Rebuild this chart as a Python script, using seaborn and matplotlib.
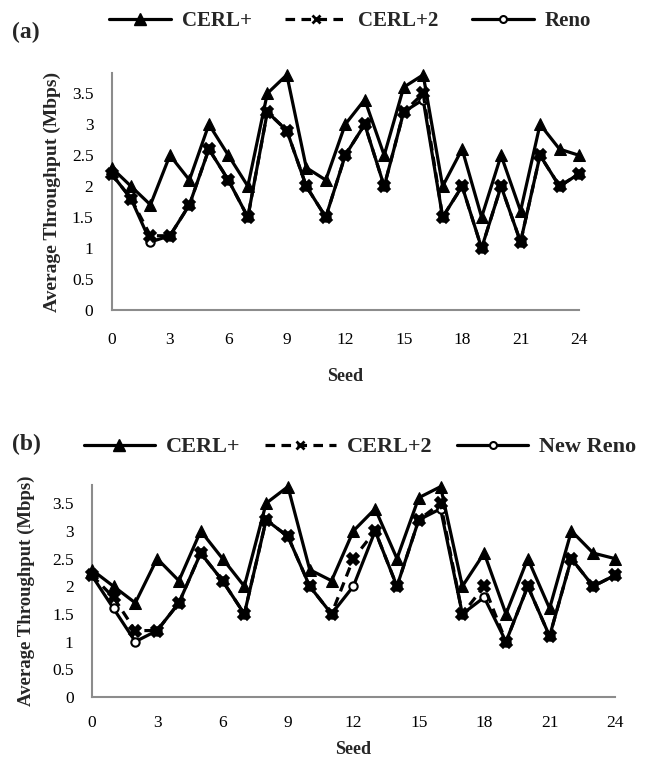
import numpy as np
import pandas as pd
import matplotlib
matplotlib.use("Agg")
import matplotlib.pyplot as plt
import seaborn as sns
from matplotlib.lines import Line2D

sns.set_theme(style="white")
plt.rcParams['font.family'] = ['Liberation Serif', 'DejaVu Serif']

seeds = list(range(25))

# Panel (a)
a_cerl_plus = [2.3, 2.0, 1.7, 2.5, 2.1, 3.0, 2.5, 2.0, 3.5, 3.8, 2.3, 2.1, 3.0,
               3.4, 2.5, 3.6, 3.8, 2.0, 2.6, 1.5, 2.5, 1.6, 3.0, 2.6, 2.5]
a_cerl_plus2 = [2.2, 1.8, 1.2, 1.2, 1.7, 2.6, 2.1, 1.5, 3.2, 2.9, 2.0, 1.5, 2.5,
                3.0, 2.0, 3.2, 3.5, 1.5, 2.0, 1.0, 2.0, 1.1, 2.5, 2.0, 2.2]
a_reno = [2.2, 1.8, 1.1, 1.2, 1.7, 2.6, 2.1, 1.5, 3.2, 2.9, 2.0, 1.5, 2.5,
          3.0, 2.0, 3.2, 3.4, 1.5, 2.0, 1.0, 2.0, 1.1, 2.5, 2.0, 2.2]

# Panel (b)
b_cerl_plus = [2.3, 2.0, 1.7, 2.5, 2.1, 3.0, 2.5, 2.0, 3.5, 3.8, 2.3, 2.1, 3.0,
               3.4, 2.5, 3.6, 3.8, 2.0, 2.6, 1.5, 2.5, 1.6, 3.0, 2.6, 2.5]
b_cerl_plus2 = [2.2, 1.8, 1.2, 1.2, 1.7, 2.6, 2.1, 1.5, 3.2, 2.9, 2.0, 1.5, 2.5,
                3.0, 2.0, 3.2, 3.5, 1.5, 2.0, 1.0, 2.0, 1.1, 2.5, 2.0, 2.2]
b_new_reno = [2.2, 1.6, 1.0, 1.2, 1.7, 2.6, 2.1, 1.5, 3.2, 2.9, 2.0, 1.5, 2.0,
              3.0, 2.0, 3.2, 3.4, 1.5, 1.8, 1.0, 2.0, 1.1, 2.5, 2.0, 2.2]

y_ticks = [0, 0.5, 1, 1.5, 2, 2.5, 3, 3.5]
y_tick_labels = ["0", "0.5", "1", "1.5", "2", "2.5", "3", "3.5"]
x_ticks = [0, 3, 6, 9, 12, 15, 18, 21, 24]

W, H = 646, 760
fig = plt.figure(figsize=(W / 100, H / 100), dpi=100)


def box(l, t, r, b):
    return [l / W, 1 - b / H, (r - l) / W, (b - t) / H]


ax_a = fig.add_axes(box(111.5, 73, 579, 310))
ax_b = fig.add_axes(box(91.7, 485, 615, 697))

SPINE = "#8c8c8c"


def draw(ax, cp, cp2, reno, reno_label, ylab_size, ylab_pad, xtick_pad, xlab_pad):
    sns.lineplot(x=seeds, y=reno, ax=ax, color="black", lw=2.3, marker="o",
                 markersize=6, markerfacecolor="white", markeredgecolor="black",
                 markeredgewidth=1.5, label=reno_label, clip_on=False, zorder=3)
    sns.lineplot(x=seeds, y=cp2, ax=ax, color="black", lw=2.3, marker="X",
                 markersize=8.5, markerfacecolor="black", markeredgecolor="black",
                 markeredgewidth=1.2,
                 linestyle=(0, (3, 2)), label="CERL+2", clip_on=False, zorder=4)
    sns.lineplot(x=seeds, y=cp, ax=ax, color="black", lw=2.3, marker="^",
                 markersize=9, markerfacecolor="black", markeredgecolor="black",
                 label="CERL+", clip_on=False, zorder=5)
    ax.set_xlim(0, 24)
    ax.set_ylim(0, 3.83)
    ax.set_yticks(y_ticks)
    ax.set_yticklabels(y_tick_labels)
    ax.set_xticks(x_ticks)
    ax.tick_params(axis="both", length=0, labelsize=12.5, colors="black")
    ax.tick_params(axis="y", pad=13)
    ax.tick_params(axis="x", pad=xtick_pad)
    for s in ["top", "right"]:
        ax.spines[s].set_visible(False)
    for s in ["left", "bottom"]:
        ax.spines[s].set_color(SPINE)
        ax.spines[s].set_linewidth(1.5)
    ax.set_xlabel("Seed", fontsize=13, fontweight="bold", labelpad=xlab_pad)
    ax.set_ylabel("Average Throughput (Mbps)", fontsize=ylab_size,
                  fontweight="bold", labelpad=ylab_pad)
    ax.get_legend().remove()


draw(ax_a, a_cerl_plus, a_cerl_plus2, a_reno, "Reno", 14, 8, 16, 14)
draw(ax_b, b_cerl_plus, b_cerl_plus2, b_new_reno, "New Reno", 13.5, 12, 13, 7)


def legend(y, x, reno_label, size, hl, cs):
    handles = [
        Line2D([], [], color="black", lw=2.3, marker="^", markersize=9),
        Line2D([], [], color="black", lw=2.3, linestyle=(0, (3, 2)),
               marker="x", markersize=6, markeredgewidth=2),
        Line2D([], [], color="black", lw=2.3, marker="o", markersize=5,
               markerfacecolor="white", markeredgewidth=1.5),
    ]
    fig.legend(handles, ["CERL+", "CERL+2", reno_label], loc="center",
               bbox_to_anchor=(x / W, 1 - y / H), ncol=3, frameon=False,
               handlelength=hl, columnspacing=cs, handletextpad=0.5,
               prop={"family": "Liberation Serif", "weight": "bold", "size": size})


legend(21, 350, "Reno", 15, 3.0, 1.6)
legend(447, 360, "New Reno", 16, 3.2, 1.1)

fig.text(12 / W, 1 - 32 / H, "(a)", fontsize=17, fontweight="bold", va="center")
fig.text(12 / W, 1 - 444 / H, "(b)", fontsize=17, fontweight="bold", va="center")

fig.savefig("out.png", dpi=100)
